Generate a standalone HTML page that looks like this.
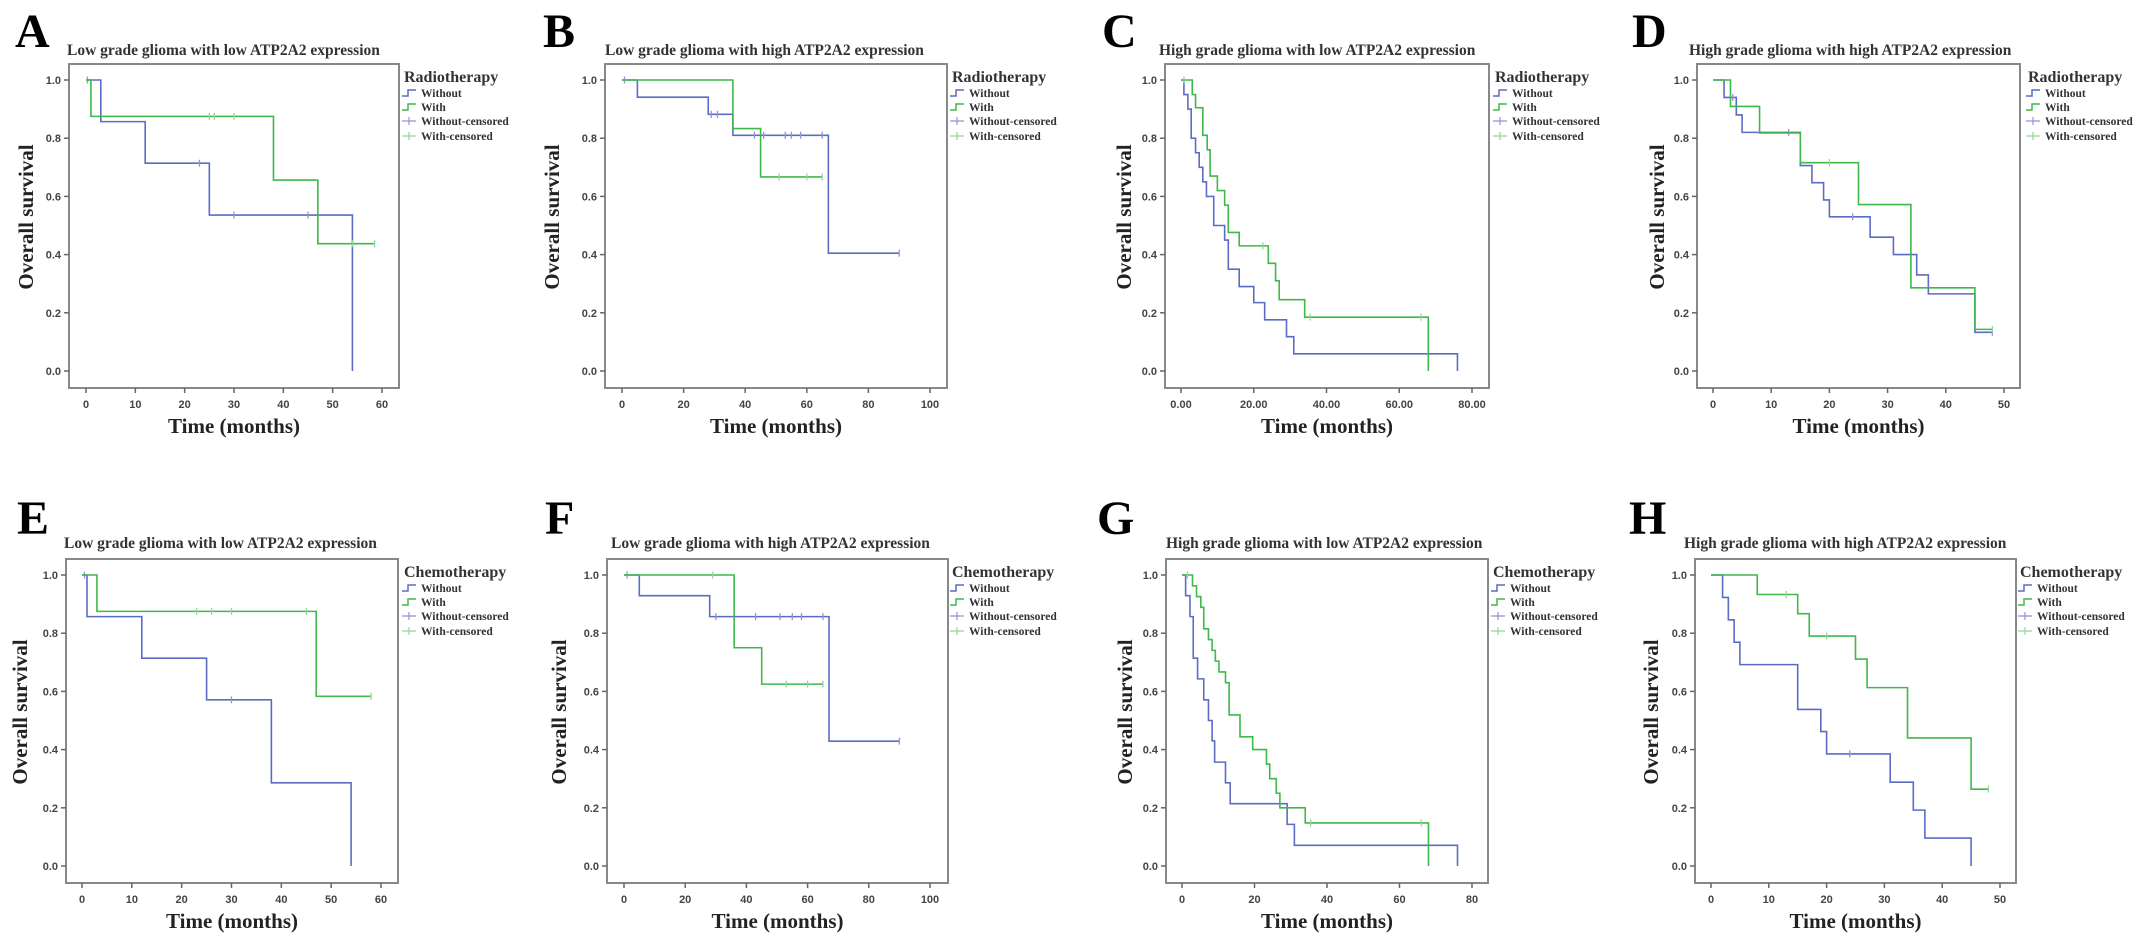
<!DOCTYPE html>
<html><head><meta charset="utf-8"><style>
html,body{margin:0;padding:0;background:#fff;}
svg{display:block;}
text{font-family:"Liberation Serif",serif;font-weight:bold;}
.tick{font-family:"Liberation Sans",sans-serif;font-size:11px;fill:#444;}
</style></head><body>
<svg id="fig" width="2150" height="939" viewBox="0 0 2150 939" xmlns="http://www.w3.org/2000/svg"></svg>
<script>
// ---- data (time in months, survival after each event, censor times) ----
const aWithoutT=[3,12,25,54]; const aWithoutS=[0.857,0.714,0.536,0]; const aWithoutC=[0.3,23,30,45];
const aWithT=[1,38,47]; const aWithS=[0.875,0.656,0.4375]; const aWithC=[25,26,30,54,58.5];
const bWithoutT=[5,28,36,67]; const bWithoutS=[0.941,0.882,0.81,0.405]; const bWithoutC=[0.8,29,31,43,46,53,55,58,65,90];
const bWithT=[36,45]; const bWithS=[0.833,0.667]; const bWithC=[51,60,65];
const cWithoutT=[0.8,1.9,2.8,4,5,6,7,9,12,13,16,20,23,29,31,76]; const cWithoutS=[0.95,0.9,0.8,0.75,0.7,0.65,0.6,0.5,0.45,0.35,0.29,0.235,0.176,0.118,0.059,0]; const cWithoutC=[];
const cWithT=[3.1,4,6,7.2,8,10,12,13,16,24,26,27,34,68]; const cWithS=[0.95,0.905,0.81,0.76,0.67,0.62,0.57,0.476,0.43,0.37,0.31,0.245,0.185,0]; const cWithC=[0.8,22.5,35.5,66];
const dWithoutT=[1.9,4,5,15,17,19,20,27,31,35,37,45]; const dWithoutS=[0.94,0.88,0.82,0.706,0.647,0.588,0.53,0.46,0.4,0.33,0.265,0.133]; const dWithoutC=[3.4,13,24,48];
const dWithT=[3,8,15,25,34,45]; const dWithS=[0.909,0.818,0.716,0.572,0.286,0.143]; const dWithC=[20,48];
const eWithoutT=[1,12,25,38,54]; const eWithoutS=[0.857,0.714,0.571,0.286,0]; const eWithoutC=[0.5,30];
const eWithT=[3,47]; const eWithS=[0.875,0.583]; const eWithC=[23,26,30,45,58];
const fWithoutT=[5,28,67]; const fWithoutS=[0.929,0.857,0.429]; const fWithoutC=[1,30,43,51,55,58,65,90];
const fWithT=[36,45]; const fWithS=[0.75,0.625]; const fWithC=[29,53,60,65];
const gWithoutT=[1,2.2,3.1,4.3,6,7.3,8.3,9,12,13.3,29,31,76]; const gWithoutS=[0.929,0.857,0.714,0.643,0.571,0.5,0.43,0.357,0.286,0.214,0.143,0.071,0]; const gWithoutC=[];
const gWithT=[2.9,4,5.2,6,7.3,8.3,9.2,10.2,12,13,16,19.5,23.3,24.2,26,27,34,68]; const gWithS=[0.963,0.926,0.889,0.815,0.778,0.741,0.704,0.667,0.63,0.519,0.444,0.4,0.35,0.3,0.25,0.2,0.148,0]; const gWithC=[1.5,35.5,66];
const hWithoutT=[2,3,4,5,15,19,20,31,35,37,45]; const hWithoutS=[0.923,0.846,0.769,0.692,0.538,0.462,0.385,0.288,0.192,0.096,0]; const hWithoutC=[24];
const hWithT=[8,15,17,25,27,34,45]; const hWithS=[0.933,0.867,0.79,0.711,0.613,0.44,0.264]; const hWithC=[13,20,48];
const yTickLabels=["0.0","0.2","0.4","0.6","0.8","1.0"];
const yTickValues=[0,0.2,0.4,0.6,0.8,1.0];
const legendLabels=["Without","With","Without-censored","With-censored"];

// ---- layout ----
const R2=495;
const BOXT=64, BOXB=388, Y1=80, Y0=371;
const panels=[
 {id:'a',letter:'A',lx:15,title:'Low grade glioma with low ATP2A2 expression',tx:67,leg:'Radiotherapy',legx:402,box:[69,399],x0:86,x1:382,xMax:60,step:10,dec:0,ylx:26,row:0,wo:[aWithoutT,aWithoutS,aWithoutC],wi:[aWithT,aWithS,aWithC]},
 {id:'b',letter:'B',lx:543,title:'Low grade glioma with high ATP2A2 expression',tx:605,leg:'Radiotherapy',legx:950,box:[605,947],x0:622,x1:930,xMax:100,step:20,dec:0,ylx:552,row:0,wo:[bWithoutT,bWithoutS,bWithoutC],wi:[bWithT,bWithS,bWithC]},
 {id:'c',letter:'C',lx:1102,title:'High grade glioma with low ATP2A2 expression',tx:1159,leg:'Radiotherapy',legx:1493,box:[1165,1489],x0:1181,x1:1472,xMax:80,step:20,dec:2,ylx:1124,row:0,wo:[cWithoutT,cWithoutS,cWithoutC],wi:[cWithT,cWithS,cWithC]},
 {id:'d',letter:'D',lx:1632,title:'High grade glioma with high ATP2A2 expression',tx:1689,leg:'Radiotherapy',legx:2026,box:[1697,2020],x0:1713,x1:2004,xMax:50,step:10,dec:0,ylx:1657,row:0,wo:[dWithoutT,dWithoutS,dWithoutC],wi:[dWithT,dWithS,dWithC]},
 {id:'e',letter:'E',lx:17,title:'Low grade glioma with low ATP2A2 expression',tx:64,leg:'Chemotherapy',legx:402,box:[66,398],x0:82,x1:381,xMax:60,step:10,dec:0,ylx:20,row:1,wo:[eWithoutT,eWithoutS,eWithoutC],wi:[eWithT,eWithS,eWithC]},
 {id:'f',letter:'F',lx:545,title:'Low grade glioma with high ATP2A2 expression',tx:611,leg:'Chemotherapy',legx:950,box:[607,948],x0:624,x1:930,xMax:100,step:20,dec:0,ylx:559,row:1,wo:[fWithoutT,fWithoutS,fWithoutC],wi:[fWithT,fWithS,fWithC]},
 {id:'g',letter:'G',lx:1097,title:'High grade glioma with low ATP2A2 expression',tx:1166,leg:'Chemotherapy',legx:1491,box:[1166,1488],x0:1182,x1:1472,xMax:80,step:20,dec:0,ylx:1125,row:1,wo:[gWithoutT,gWithoutS,gWithoutC],wi:[gWithT,gWithS,gWithC]},
 {id:'h',letter:'H',lx:1629,title:'High grade glioma with high ATP2A2 expression',tx:1684,leg:'Chemotherapy',legx:2018,box:[1695,2016],x0:1711,x1:2000,xMax:50,step:10,dec:0,ylx:1651,row:1,wo:[hWithoutT,hWithoutS,hWithoutC],wi:[hWithT,hWithS,hWithC]}
];
const NS='http://www.w3.org/2000/svg';
const svg=document.getElementById('fig');
function mk(tag,attrs,parent,txt){const e=document.createElementNS(NS,tag);for(const k in attrs)e.setAttribute(k,attrs[k]);if(txt!==undefined)e.textContent=txt;(parent||svg).appendChild(e);return e;}
const BLUE='#5b6cc4', GREEN='#3fb84c', BLUEC='#9a8fd8', GREENC='#8fd898';

panels.forEach(p=>{
  const off=p.row*R2;
  const g=mk('g',{});
  
  
  const L=p.box[0], Rr=p.box[1], T=BOXT+off, B=BOXB+off;
  const yv1=Y1+off, yv0=Y0+off;
  const sx=v=>p.x0+(p.x1-p.x0)*v/p.xMax;
  const sy=v=>yv0+(yv1-yv0)*v;
  let t=mk('text',{x:p.lx,y:47+off-(p.row?8:0),'font-size':48,fill:'#000'},g,p.letter);
  
  t=mk('text',{x:p.tx,y:55+off-(p.row?2:0),'font-size':15.5,fill:'#333'},g,p.title);
  
  let r=mk('rect',{x:L,y:T,width:Rr-L,height:B-T,fill:'#fff',stroke:'#888','stroke-width':2},g);
  
  yTickValues.forEach((v,i)=>{
    const y=sy(v);
    mk('line',{x1:L-5,x2:L,y1:y,y2:y,stroke:'#666','stroke-width':1.5},g);
    const tl=mk('text',{x:L-8,y:y+4,'text-anchor':'end',class:'tick'},g,yTickLabels[i]);
    
  });
  for(let v=0;v<=p.xMax;v+=p.step){
    const x=sx(v);
    mk('line',{x1:x,x2:x,y1:B,y2:B+5,stroke:'#666','stroke-width':1.5},g);
    const tl=mk('text',{x:x,y:408+off,'text-anchor':'middle',class:'tick'},g,v.toFixed(p.dec));
    
  }
  t=mk('text',{x:(L+Rr)/2,y:433+off,'text-anchor':'middle','font-size':21,fill:'#222'},g,'Time (months)');
  
  const yc=(T+B)/2-9;
  t=mk('text',{x:p.ylx,y:yc,'text-anchor':'middle','font-size':21,fill:'#222',transform:'rotate(-90 '+p.ylx+' '+yc+')',dy:7},g,'Overall survival');
  
  [[p.wo,BLUE,BLUEC,'without'],[p.wi,GREEN,GREENC,'with']].forEach(([s,col,ccol,nm])=>{
    const [ts,ss,cs]=s;
    let d='M'+sx(0)+','+sy(1);
    ts.forEach((tt,i)=>{d+=' H'+sx(tt)+' V'+sy(ss[i]);});
    const end=Math.max(ts.length?ts[ts.length-1]:0,cs.length?Math.max(...cs):0);
    d+=' H'+sx(end);
    const pa=mk('path',{d:d,fill:'none',stroke:col,'stroke-width':1.6},g);
    
    cs.forEach(c=>{
      let v=1;ts.forEach((tt,i)=>{if(tt<=c)v=ss[i];});
      const ln=mk('line',{x1:sx(c),x2:sx(c),y1:sy(v)-3.5,y2:sy(v)+3.5,stroke:ccol,'stroke-width':1.3},g);
      
    });
  });
  const lg=mk('g',{},g);
  
  mk('text',{x:p.legx+2,y:82+off,'font-size':16,fill:'#333'},lg,p.leg);
  const ly=[97,111,125,140];
  legendLabels.forEach((lab,i)=>{
    const y=ly[i]+off, x=p.legx;
    if(i<2){mk('path',{d:'M'+x+','+(y-1)+' h6 v-6 h8',fill:'none',stroke:i?GREEN:BLUE,'stroke-width':1.5},lg);}
    else{mk('path',{d:'M'+x+','+(y-4)+' h14 M'+(x+7)+','+(y-8)+' v8',fill:'none',stroke:i===2?BLUEC:GREENC,'stroke-width':1.2},lg);}
    const le=mk('text',{x:x+19,y:y,'font-size':11.5,fill:'#333'},lg,lab);
    
  });
});
</script>
</body></html>
